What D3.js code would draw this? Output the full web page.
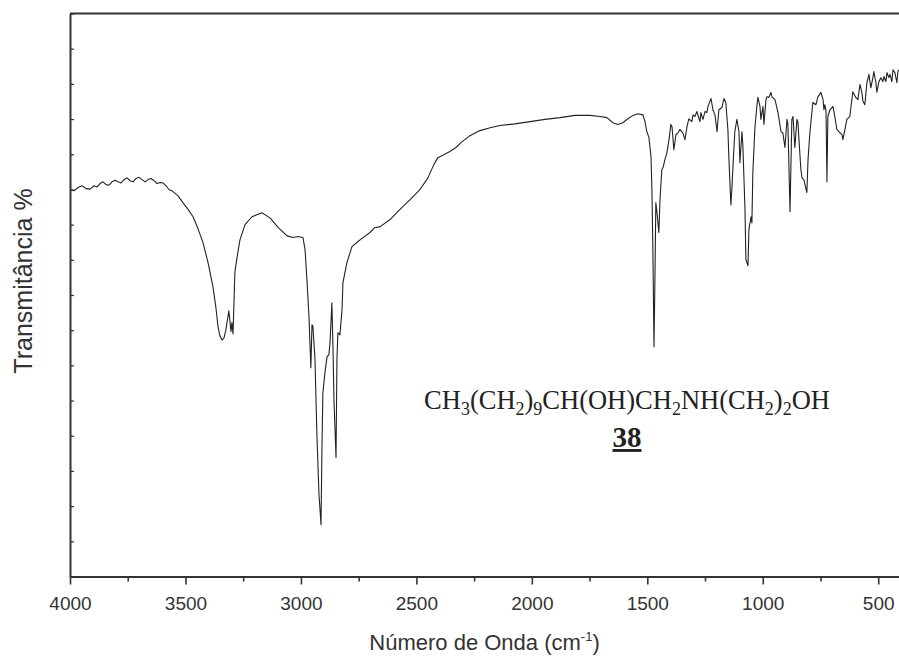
<!DOCTYPE html>
<html>
<head>
<meta charset="utf-8">
<script src="https://cdn.jsdelivr.net/npm/d3@7"></script>
<style>
  html, body { margin: 0; padding: 0; background: #fff; }
  svg { display: block; }
</style>
</head>
<body>
<svg id="chart" width="899" height="656"></svg>
<script>
// IR spectrum: wavenumber (cm-1) and transmittance (%)
const wavenumbers = [4000,3983,3965,3948,3931,3913,3896,3883,3870,3857,
  3844,3831,3818,3805,3792,3779,3766,3753,3740,3727,
  3714,3701,3688,3675,3662,3649,3636,3623,3610,3597,
  3584,3571,3558,3532,3511,3489,
  3467,3446,3424,3402,3381,3368,3359,3351,3342,3333,
  3325,3312,3303,3299,3294,3286,3277,3264,3242,3212,
  3169,3134,3099,3060,3034,3013,2991,2982,2974,2965,
  2957,2952,2948,2939,2931,2922,2913,2909,2905,2896,
  2887,2879,2874,2866,2861,2857,2848,2844,2840,2831,
  2822,2818,2801,2779,2753,2731,2701,2679,2658,2614,
  2571,2528,2485,2450,2424,2407,2381,2355,2329,2303,
  2268,2225,2181,2138,2073,2008,1943,1878,1813,1748,
  1705,1675,1649,1627,1606,1584,1562,1541,1519,1510,
  1502,1493,1484,1480,1476,1471,1467,1463,1458,1450,
  1445,1437,1432,1424,1415,1406,1398,1393,1385,1376,
  1367,1359,1346,1337,1328,1320,1307,1302,1294,1285,
  1281,1272,1268,1259,1250,1242,1237,1224,1216,1207,
  1198,1190,1177,1168,1160,1151,1147,1138,1134,1129,
  1121,1112,1103,1099,1090,1086,1077,1073,1064,1060,
  1051,1047,1043,1034,1025,1021,1012,1008,999,995,
  986,982,973,965,960,947,934,921,913,904,
  895,891,882,874,869,861,852,848,835,830,
  822,809,804,796,783,770,761,748,739,735,
  731,726,722,718,709,696,688,679,670,657,
  653,644,636,623,610,597,588,579,571,566,
  558,549,540,532,523,519,510,506,497,488,
  480,475,467,462,454,449,441,436,428,419,
  415,410];

const transmittance = [68.7,68.5,69.1,69.4,68.9,68.8,69.4,69.2,69.8,70.1,
  69.6,69.5,70.1,70.4,70.1,69.9,70.5,70.8,70.3,70.1,
  70.7,70.9,70.5,70.1,70.5,70.7,70.3,69.8,70.0,69.9,
  69.4,68.7,68.5,67.6,66.4,65.2,
  63.9,61.8,59.3,55.7,51.5,47.7,44.4,42.8,42.0,42.4,
  43.8,47.2,43.5,45.1,43.1,54.0,56.6,59.8,62.5,63.9,
  64.6,63.7,62.0,60.5,60.2,60.4,60.2,58.0,52.7,46.1,
  37.1,44.7,44.4,38.5,25.5,14.8,9.2,22.5,32.6,36.2,
  39.0,39.4,41.5,48.6,40.3,31.4,21.1,38.5,43.3,42.9,
  47.4,52.2,55.7,58.6,59.5,60.2,61.1,62.0,62.1,63.4,
  65.2,66.9,68.7,70.8,73.2,74.4,74.9,75.5,76.2,77.2,
  78.3,79.2,79.7,80.1,80.4,80.8,81.2,81.5,81.9,81.9,
  81.7,81.5,80.6,80.3,80.6,81.3,81.9,82.2,82.0,80.8,
  79.0,78.0,74.6,68.7,58.6,40.8,52.7,66.4,64.6,61.1,
  66.9,72.3,72.6,74.0,75.3,77.6,80.3,79.9,75.8,78.5,
  78.8,79.4,78.8,77.6,79.9,81.3,80.8,82.0,81.7,82.6,
  82.0,80.8,82.4,81.2,82.6,82.4,83.5,84.9,82.9,82.0,
  79.0,82.9,83.3,84.9,84.2,79.4,74.6,66.0,68.7,72.8,
  79.0,81.2,79.0,73.5,79.0,76.4,65.2,56.3,55.2,61.6,
  63.9,62.8,71.7,79.7,83.8,85.1,83.5,81.2,83.5,80.3,
  84.7,85.2,85.1,86.0,85.2,84.7,82.4,79.0,78.8,76.2,
  81.2,80.3,64.8,81.2,81.7,76.2,81.2,80.8,72.3,70.8,
  70.5,68.2,74.0,78.8,84.2,83.8,85.2,86.0,84.7,82.9,
  83.8,82.6,70.1,81.7,82.9,83.5,81.7,79.4,79.0,78.5,
  77.6,79.4,81.2,81.7,86.1,85.1,84.7,87.4,86.0,84.4,
  83.8,87.7,89.2,86.8,88.6,89.7,87.7,86.0,87.9,88.6,
  87.9,88.8,87.9,89.5,88.6,89.2,87.9,90.0,89.5,87.7,
  89.7,90.0];

// Axis ticks
const xMajorTicks = [4000, 3500, 3000, 2500, 2000, 1500, 1000, 500];
const xMinorTicks = [3750, 3250, 2750, 2250, 1750, 1250, 750];
const yTicks = d3.range(0, 100.001, 6.25);

// Labels
const xTitle = "Número de Onda (cm";
const xTitleSup = "-1";
const yTitle = "Transmitância %";
// Formula pieces: [text, isSubscript]
const formulaParts = [["CH", false], ["3", true], ["(CH", false], ["2", true], [")", false], ["9", true],
  ["CH(OH)CH", false], ["2", true], ["NH(CH", false], ["2", true], [")", false], ["2", true], ["OH", false]];
const compoundNumber = "38";

const svg = d3.select("#chart");
const plot = { left: 70, right: 899, top: 13.5, bottom: 576.5 };

const x = d3.scaleLinear().domain([4000, 410]).range([plot.left, plot.right]);
const y = d3.scaleLinear().domain([0, 100]).range([plot.bottom, plot.top]);

const axisColor = "#333";

// clip for the spectrum
svg.append("defs").append("clipPath").attr("id", "plotClip")
  .append("rect").attr("x", plot.left).attr("y", plot.top - 2)
  .attr("width", plot.right - plot.left).attr("height", plot.bottom - plot.top + 4);

const data = wavenumbers.map((w, i) => ({ w, t: transmittance[i] }));

const line = d3.line().x(d => x(d.w)).y(d => y(d.t));

svg.append("path")
  .datum(data)
  .attr("clip-path", "url(#plotClip)")
  .attr("fill", "none")
  .attr("stroke", "#222")
  .attr("stroke-width", 1.1)
  .attr("stroke-linejoin", "round")
  .attr("d", line);

// top frame line
svg.append("line")
  .attr("x1", plot.left).attr("x2", plot.right)
  .attr("y1", plot.top).attr("y2", plot.top)
  .attr("stroke", axisColor).attr("stroke-width", 2);

// bottom axis: minor ticks
const gMinor = svg.append("g").attr("transform", `translate(0,${plot.bottom})`)
  .call(d3.axisBottom(x).tickValues(xMinorTicks).tickSize(5).tickFormat(""));
gMinor.select(".domain").remove();
gMinor.selectAll(".tick line").attr("stroke", axisColor).attr("stroke-width", 1.6);

// bottom axis: major ticks with labels
const gx = svg.append("g").attr("transform", `translate(0,${plot.bottom})`)
  .call(d3.axisBottom(x).tickValues(xMajorTicks).tickSize(8).tickPadding(12).tickSizeOuter(0).tickFormat(d3.format("d")));
gx.select(".domain").attr("stroke", axisColor).attr("stroke-width", 2);
gx.selectAll(".tick line").attr("stroke", axisColor).attr("stroke-width", 1.6);
gx.selectAll(".tick text")
  .attr("fill", "#333")
  .style("font-family", "'Liberation Sans', Arial, sans-serif")
  .style("font-size", "19px");

// left axis with inward ticks, no labels
const gy = svg.append("g").attr("transform", `translate(${plot.left},0)`)
  .call(d3.axisLeft(y).tickValues(yTicks).tickSize(-4).tickSizeOuter(0).tickFormat(""));
gy.select(".domain").attr("stroke", axisColor).attr("stroke-width", 2);
gy.selectAll(".tick line").attr("stroke", axisColor).attr("stroke-width", 1.2);

// axis titles
const xt = svg.append("text")
  .attr("x", (plot.left + plot.right) / 2)
  .attr("y", 650)
  .attr("text-anchor", "middle")
  .attr("fill", "#333")
  .style("font-family", "'Liberation Sans', Arial, sans-serif")
  .style("font-size", "22px");
xt.append("tspan").text(xTitle);
xt.append("tspan").attr("dy", -9).style("font-size", "13px").text(xTitleSup);
xt.append("tspan").attr("dy", 9).text(")");

svg.append("text")
  .attr("transform", "translate(32,281) rotate(-90)")
  .attr("text-anchor", "middle")
  .attr("fill", "#333")
  .style("font-family", "'Liberation Sans', Arial, sans-serif")
  .style("font-size", "25px")
  .text(yTitle);

// compound formula
const ft = svg.append("text")
  .attr("x", 627)
  .attr("y", 409)
  .attr("text-anchor", "middle")
  .attr("fill", "#222")
  .style("font-family", "'Liberation Serif', 'Times New Roman', serif")
  .style("font-size", "26.5px");
let sub = false;
formulaParts.forEach(([txt, isSub]) => {
  const ts = ft.append("tspan").text(txt);
  if (isSub) ts.style("font-size", "18px");
  if (isSub && !sub) ts.attr("dy", 5.5);
  else if (!isSub && sub) ts.attr("dy", -5.5);
  sub = isSub;
});

svg.append("text")
  .attr("x", 627)
  .attr("y", 447)
  .attr("text-anchor", "middle")
  .attr("fill", "#222")
  .style("font-family", "'Liberation Serif', 'Times New Roman', serif")
  .style("font-size", "29px")
  .style("font-weight", "bold")
  .style("text-decoration", "underline")
  .text(compoundNumber);
</script>
</body>
</html>
